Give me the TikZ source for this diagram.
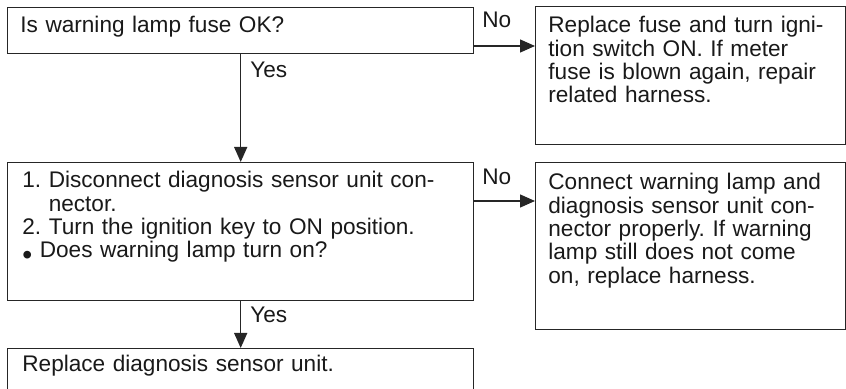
\documentclass[tikz,border=0pt]{standalone}
\usepackage{fontspec}
\setmainfont{Liberation Sans}
\usetikzlibrary{arrows.meta,positioning,calc}

\tikzset{
  flowbox/.style={draw=black!85, line width=0.7pt, anchor=north west, inner sep=0pt},
  boxtext/.style={anchor=base west, inner sep=0pt, align=left, text=black!90,
    font=\fontsize{11.3}{11.65}\selectfont\frenchspacing},
  answer/.style={anchor=base west, inner sep=0pt, text=black!90,
    font=\fontsize{11.3}{11.65}\selectfont},
  flowarrow/.style={draw=black!85, line width=0.7pt, -{Triangle[length=7.5pt,width=6.5pt]}}
}
\newcommand{\lampdot}{\raisebox{-0.3em}{\scalebox{1.25}{•}}}

\begin{document}
\begin{tikzpicture}[x=0.5pt,y=-0.5pt]
  \useasboundingbox (0,0) rectangle (846,389);
  \clip (0,0) rectangle (846,389);

  % --- boxes ---
  \node[flowbox, minimum width=233pt, minimum height=23pt] (fuse) at (7,7) {};
  \node[flowbox, minimum width=155pt, minimum height=69pt] (replfuse) at (535,6) {};
  \node[flowbox, minimum width=233pt, minimum height=69pt] (discon) at (7,162) {};
  \node[flowbox, minimum width=155pt, minimum height=83.5pt] (connlamp) at (535,162) {};
  \node[flowbox, minimum width=233pt, minimum height=36pt] (replsens) at (7,348) {};

  % --- box texts ---
  \node[boxtext, text width=225pt] (fusetxt) at (20,33) {Is warning lamp fuse OK?};
  \node[boxtext, text width=160pt] (replfusetxt) at (548,33)
    {Replace fuse and turn igni-\\tion switch ON. If meter\\fuse is blown again, repair\\related harness.};
  \node[boxtext, text width=225pt] (discontxt) at (22,188)
    {1. Disconnect diagnosis sensor unit con-\\\phantom{1. }nector.\\2. Turn the ignition key to ON position.\\\lampdot\ Does warning lamp turn on?};
  \node[boxtext, text width=160pt] (connlamptxt) at (548,190)
    {Connect warning lamp and\\diagnosis sensor unit con-\\nector properly. If warning\\lamp still does not come\\on, replace harness.};
  \node[boxtext, text width=225pt] (replsenstxt) at (22,372) {Replace diagnosis sensor unit.};

  % --- connectors ---
  \coordinate (nofuse) at ([yshift=-19.5pt]fuse.north east);
  \coordinate (nolamp) at ([yshift=-19.5pt]discon.north east);
  \draw[flowarrow] (fuse.south) -- (discon.north);
  \draw[flowarrow] (nofuse) -- (nofuse -| replfuse.west);
  \draw[flowarrow] (nolamp) -- (nolamp -| connlamp.west);
  \draw[flowarrow] (discon.south) -- (replsens.north);

  % --- answers ---
  \node[answer] (yes1) at (250,78) {Yes};
  \node[answer] (no1) at (482,28) {No};
  \node[answer] (no2) at (482,185) {No};
  \node[answer] (yes2) at (250,323) {Yes};
\end{tikzpicture}
\end{document}
